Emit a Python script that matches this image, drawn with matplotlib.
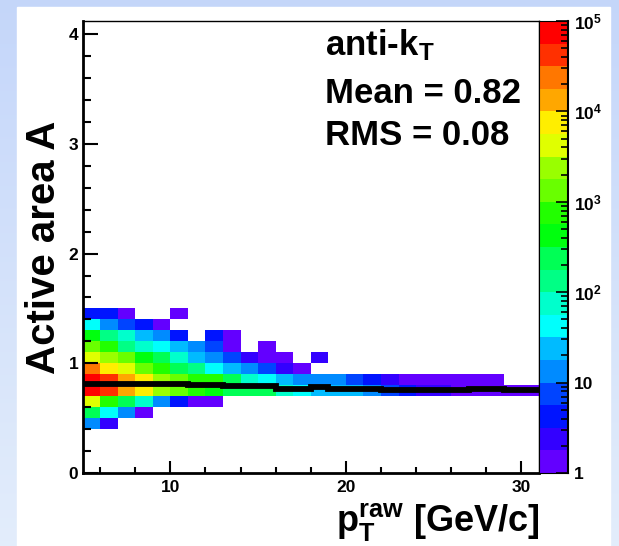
import colorsys
import numpy as np
import matplotlib
matplotlib.use("Agg")
import matplotlib.pyplot as plt
from matplotlib.colors import ListedColormap, BoundaryNorm
from matplotlib.patches import Rectangle

plt.rcParams['font.family'] = ['Liberation Sans', 'DejaVu Sans']
plt.rcParams['font.weight'] = 'bold'
plt.rcParams['mathtext.fontset'] = 'custom'
plt.rcParams['mathtext.rm'] = 'Liberation Sans:bold'
plt.rcParams['mathtext.it'] = 'Liberation Sans:bold'
plt.rcParams['mathtext.bf'] = 'Liberation Sans:bold'
plt.rcParams['mathtext.default'] = 'rm'

#
# -1- Histogram content
#     x bins : pT raw 5..31 GeV/c, width 1
#     y bins : active area 0.4..1.5, width 0.1
#

xEdges = np.arange(5, 32, 1)
yEdges = np.round(np.arange(0.4, 1.51, 0.1), 2)

# one row per y bin, bottom (0.4-0.5) to top (1.4-1.5), columns = pT bins 5..30
counts = [
 [13, 2, 0, 0, 0, 0, 0, 0, 0, 0, 0, 0, 0, 0, 0, 0, 0, 0, 0, 0, 0, 0, 0, 0, 0, 0],
 [240, 42, 13, 1, 0, 0, 0, 0, 0, 0, 0, 0, 0, 0, 0, 0, 0, 0, 0, 0, 0, 0, 0, 0, 0, 0],
 [4200, 750, 240, 75, 13, 4, 1, 1, 0, 0, 0, 0, 0, 0, 0, 0, 0, 0, 0, 0, 0, 0, 0, 0, 0, 0],
 [75000, 42000, 13000, 7500, 2400, 1300, 750, 420, 240, 240, 240, 75, 42, 24, 24, 24, 13, 7, 4, 2, 2, 1, 1, 1, 1, 1],
 [75000, 42000, 13000, 7500, 2400, 1300, 750, 750, 240, 75, 42, 24, 13, 13, 13, 7, 4, 2, 1, 1, 1, 1, 1, 1, 0, 0],
 [24000, 7500, 4200, 1300, 750, 240, 130, 42, 24, 13, 7, 2, 1, 0, 0, 0, 0, 0, 0, 0, 0, 0, 0, 0, 0, 0],
 [4200, 2400, 1300, 420, 240, 75, 24, 13, 7, 2, 1, 1, 0, 2, 0, 0, 0, 0, 0, 0, 0, 0, 0, 0, 0, 0],
 [1300, 750, 130, 75, 42, 24, 13, 7, 1, 0, 1, 0, 0, 0, 0, 0, 0, 0, 0, 0, 0, 0, 0, 0, 0, 0],
 [420, 130, 75, 24, 13, 4, 0, 4, 1, 0, 0, 0, 0, 0, 0, 0, 0, 0, 0, 0, 0, 0, 0, 0, 0, 0],
 [42, 13, 7, 4, 1, 0, 0, 0, 0, 0, 0, 0, 0, 0, 0, 0, 0, 0, 0, 0, 0, 0, 0, 0, 0, 0],
 [4, 4, 1, 0, 0, 1, 0, 0, 0, 0, 0, 0, 0, 0, 0, 0, 0, 0, 0, 0, 0, 0, 0, 0, 0, 0],
]

# mean active area per pT bin (black profile)
profile = [0.81, 0.81, 0.81, 0.81, 0.81, 0.81, 0.805, 0.805, 0.79, 0.79, 0.79,
           0.77, 0.77, 0.78, 0.77, 0.77, 0.765, 0.76, 0.76, 0.76, 0.76, 0.76,
           0.77, 0.77, 0.755, 0.755]

zLevels = 10.0**np.arange(0, 5.01, 0.25)
zTicks = [1, 10, 100, 1000, 10000, 100000]
zTickLabels = ['1', '10', '$10^{2}$', '$10^{3}$', '$10^{4}$', '$10^{5}$']

statLines = ['anti-k$_{T}$', 'Mean = 0.82', 'RMS = 0.08']

#
# -2- ROOT "pretty" palette : 50 HLS colors violet -> red, 20 contours
#

pretty = []
for i in range(50):
  hue = 280.0 - (i+1)*280.0/50
  pretty.append(colorsys.hls_to_rgb(hue/360.0, 0.5, 1.0))
nLev = len(zLevels) - 1
bandColors = [pretty[int((j+0.99)*50/nLev)] for j in range(nLev)]
cmap = ListedColormap(bandColors)
cmap.set_bad('white')
norm = BoundaryNorm(zLevels, cmap.N)

#
# -3- Figure
#

W, H = 619, 546
fig = plt.figure(figsize=(W/100, H/100), dpi=100)

bg = fig.add_axes([0, 0, 1, 1])
grad = np.linspace(0, 1, 256).reshape(-1, 1)
top = np.array([0.77, 0.84, 0.98]); bot = np.array([0.89, 0.93, 0.985])
img = top[None, None, :]*(1-grad[:, :, None]) + bot[None, None, :]*grad[:, :, None]
bg.imshow(img, aspect='auto', extent=[0, 1, 0, 1])
bg.add_patch(Rectangle((17/W, 0), (610-17)/W, (H-7)/H, color='white'))
bg.set_xlim(0, 1); bg.set_ylim(0, 1); bg.axis('off')

axL, axR, axT, axB = 82.5, 539, 21, 473
ax = fig.add_axes([axL/W, 1-axB/H, (axR-axL)/W, (axB-axT)/H])
Z = np.ma.masked_equal(np.array(counts, dtype=float), 0)
ax.pcolormesh(xEdges, yEdges, Z, cmap=cmap, norm=norm)
ax.stairs(profile, xEdges, color='k', linewidth=4.2, baseline=None)

ax.set_xlim(5, 31); ax.set_ylim(0, 4.12)
ax.set_xticks([10, 20, 30]); ax.set_xticklabels(['10', '20', '30'])
ax.set_xticks(np.arange(6, 31, 2), minor=True)
ax.set_yticks([0, 1, 2, 3, 4])
ax.set_yticks(np.arange(0, 4.1, 0.2), minor=True)
ax.tick_params(which='both', direction='in', top=False, right=False,
               labelsize=12.5, width=1.5)
ax.tick_params(axis='x', which='major', length=9, pad=5)
ax.tick_params(axis='x', which='minor', length=4.5)
ax.tick_params(axis='y', which='major', length=11, pad=3)
ax.tick_params(axis='y', which='minor', length=5.5)
for s in ['left', 'bottom']:
  ax.spines[s].set_linewidth(2)
ax.spines['top'].set_linewidth(1)
ax.spines['right'].set_linewidth(1)

ax.set_ylabel('Active area A', fontsize=29, fontweight='bold', labelpad=4)
fig.text(axR/W, 1-531/H, '$p_{T}^{raw}$ [GeV/c]', fontsize=26, fontweight='bold',
         ha='right', va='baseline')

for k, line in enumerate(statLines):
  fig.text(325/W, 1-[55, 103, 145][k]/H, line, fontsize=25, fontweight='bold',
           ha='left', va='baseline')

#
# -4- Color scale (log z)
#

cax = fig.add_axes([axR/W, 1-axB/H, (568-axR)/W, (axB-axT)/H])
cax.set_yscale('log')
cax.pcolormesh([0, 1], zLevels, (zLevels[1:]*zLevels[:-1]).reshape(-1, 1)**0.5,
               cmap=cmap, norm=norm)
cax.set_ylim(1, 1e5); cax.set_xlim(0, 1)
cax.set_xticks([])
cax.yaxis.tick_right()
cax.set_yticks(zTicks); cax.set_yticklabels(zTickLabels)
cax.tick_params(which='both', direction='in', labelsize=12.5, width=1.2, pad=4)
cax.tick_params(which='major', length=9)
cax.tick_params(which='minor', length=5)
cax.spines['right'].set_linewidth(1.5)

fig.savefig('out.png', dpi=100)
